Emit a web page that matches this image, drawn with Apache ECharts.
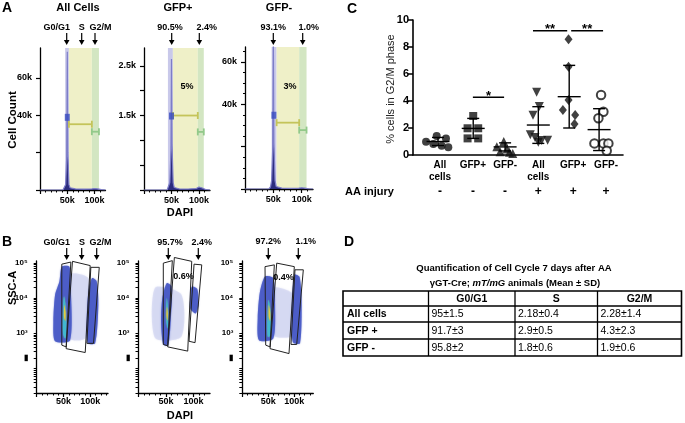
<!DOCTYPE html>
<html><head><meta charset="utf-8">
<script src="https://cdn.jsdelivr.net/npm/echarts@6/dist/echarts.min.js"></script>
<style>html,body{margin:0;padding:0;background:#fff}#c{width:685px;height:423px}</style>
</head><body><div id="c"></div><script>
// ===== Panel A: DAPI histograms (DAPI and counts in thousands) =====
const histX    = [0, 42, 45, 47, 49, 50, 51, 53, 55, 58, 65, 80, 95, 100, 106, 112, 120];
const histAllY = [0, 0, 0.8, 3, 18, 74, 20, 3, 1.2, 0.8, 0.6, 0.5, 0.6, 0.8, 0.6, 0.2, 0];
const histPosY = [0, 0, 0.03, 0.15, 0.8, 2.64, 0.9, 0.15, 0.05, 0.02, 0.02, 0.02, 0.03, 0.06, 0.04, 0.01, 0];
const histNegY = [0, 0, 1, 4, 20, 72, 22, 4, 1.2, 0.6, 0.4, 0.3, 0.4, 0.6, 0.4, 0.1, 0];
// gate edges: G0/G1 start, S start, G2/M start, G2/M end
const bandAll = [46, 53, 95, 108];
const bandPos = [43.5, 52.5, 97.8, 108.7];
const bandNeg = [47, 55.8, 95.6, 108.6];
// range markers: [from, to, level]
const sRangeAll = [53, 95, 35.2],  g2RangeAll = [95, 108, 31.2];
const sRangePos = [52.5, 97.8, 1.5], g2RangePos = [97.8, 108.7, 1.17];
const sRangeNeg = [55.8, 95.6, 31.3], g2RangeNeg = [95.6, 108.6, 27.8];
const g1MeanAll = [50, 38.9], g1MeanPos = [50, 1.49], g1MeanNeg = [51, 34.8];

// ===== Panel B: DAPI (k) vs log10(SSC-A) =====
const b1S    = [[62.4,4.66],[96.6,4.56],[99.8,3.6],[90.5,2.85],[62.4,2.85]];
const b1G1   = [[46.8,4.89],[61,4.89],[63.7,4.28],[62.4,2.8],[34.3,2.77],[31.1,3.32],[34.3,4.09],[42.3,4.47]];
const b1G2   = [[103,4.56],[112,4.47],[115,3.8],[109,2.71],[94.8,2.73],[93.6,3.51],[96.6,4.18]];
const b1Core = [[51,4.05],[54.5,3.7],[55,3.0],[53,2.85],[49,3.0],[49,3.7]];
const b1Hot  = [[51.5,3.8],[53.8,3.6],[53.5,3.35],[51,3.45]];
const b2S    = [[30,4.29],[78,4.1],[78,2.9],[30,2.86]];
const b2G1   = [[51.3,4.42],[60.4,4.32],[59.2,3.51],[54.2,2.66],[45.1,2.68],[41,3.32],[43.3,3.99]];
const b2G2   = [[97,4.32],[107,4.25],[109,3.8],[104,3.56],[94,3.7],[94.5,4.1]];
const b2Core = [[51.5,4.0],[54,3.6],[53.2,3.13],[50,3.4]];
const b2Hot  = [[51.8,3.75],[53.3,3.55],[52.5,3.35],[51,3.5]];
const b3S    = [[59.6,4.28],[98,4.1],[98,2.94],[59.6,2.94]];
const b3G1   = [[43.7,4.61],[59.6,4.56],[63,3.8],[59.6,2.85],[32.1,2.8],[29.6,3.42],[34,4.18]];
const b3G2   = [[100,4.66],[110,4.6],[114,3.9],[111,2.71],[97,2.75],[95,3.6]];
const b3Core = [[50.5,3.95],[54.5,3.6],[55,2.95],[49,2.9],[48.5,3.5]];
const b3Hot  = [[51,3.8],[53.5,3.6],[53.5,3.35],[51,3.45]];
const b1Gates = [[[46.8,4.96],[63.7,5.02],[54.9,2.61],[46.8,2.66]], [[66.7,5.04],[99.8,4.92],[90.5,2.45],[54.9,2.56]], [[101,4.87],[116.7,4.87],[106,2.71],[93.6,2.71]]];
const b2Gates = [[[45.1,4.99],[61.5,5.06],[53.1,2.64],[45.1,2.68]], [[65.2,5.15],[96.8,5.04],[89.5,2.49],[53.1,2.61]], [[101,4.96],[115,4.94],[102.8,2.73],[91.9,2.77]]];
const b3Gates = [[[43.7,4.89],[61.6,4.94],[53.3,2.61],[45,2.66]], [[66.2,4.99],[100,4.89],[89.8,2.42],[53.3,2.56]], [[101.3,4.8],[117.3,4.8],[104.6,2.68],[93.6,2.68]]];

// ===== Panel C: % cells in G2/M =====
const cLabels = ['All\ncells', 'GFP+', 'GFP-', 'All\ncells', 'GFP+', 'GFP-'];
const injury  = ['-', '-', '-', '+', '+', '+'];
const groupX  = [1.0, 2.06, 3.02, 4.02, 4.95, 5.85];
const ptsAll  = [[0.64,0.99],[0.96,1.41],[1.24,1.23],[0.86,0.81],[1.11,0.69],[1.31,0.57]];
const ptsPos  = [[2.06,2.89],[1.89,1.98],[2.21,1.98],[1.89,1.23],[2.21,1.23]];
const ptsNeg  = [[2.98,1.0],[2.77,0.62],[3.08,0.45],[2.87,0.25],[3.15,0.2],[3.25,0.12]];
const ptsAllAA = [[3.97,4.65],[4.05,3.6],[3.86,2.95],[3.78,1.5],[3.92,1.3],[4.12,1.08],[4.3,1.1],[4.02,0.95]];
const ptsPosAA = [[4.93,8.57],[4.93,6.54],[4.93,4.07],[4.76,3.33],[5.13,2.96],[5.11,2.3]];
const ptsNegAA = [[5.91,4.44],[5.98,3.21],[5.83,2.72],[5.71,0.86],[5.98,0.86],[6.13,0.86],[6.08,0.32]];
const means = [1.0, 1.97, 0.6, 2.22, 4.32, 1.88];
const sds   = [0.3, 0.74, 0.3, 1.36, 2.32, 1.55];
const sigFrom = [2.05, 3.86, 5.01], sigTo = [2.99, 4.89, 5.97], sigLevel = [4.27, 9.21, 9.21], sigMark = ['*', '**', '**'];

// ===== Panel D: table =====
const tableCols = ['G0/G1', 'S', 'G2/M'];
const tableRows = ['All cells', 'GFP +', 'GFP -'];
const g0g1Vals = ['95±1.5', '91.7±3', '95.8±2'];
const sVals    = ['2.18±0.4', '2.9±0.5', '1.8±0.6'];
const g2mVals  = ['2.28±1.4', '4.3±2.3', '1.9±0.6'];

// ---------------------------------------------------------------
const F = '"Liberation Sans", Arial, Helvetica, sans-serif';
const chart = echarts.init(document.getElementById('c'), null, {width: 685, height: 423});

function txt(x, y, text, size, o) {
  o = o || {};
  const al = o.align || 'center', va = o.va || 'middle';
  return {type: 'text', x, y, rotation: o.rot || 0, z: 100,
    style: {text, fill: o.color || '#000', font: (o.style || 'normal') + ' ' + (o.weight || 'bold') + ' ' + size + 'px ' + F,
      align: al, verticalAlign: va, textAlign: al, textVerticalAlign: va}};
}
function arrow(x, y1, y2) {
  return {type: 'group', z: 100, children: [
    {type: 'line', shape: {x1: x, y1: y1, x2: x, y2: y2 - 3}, style: {stroke: '#000', lineWidth: 1.2}},
    {type: 'polygon', shape: {points: [[x - 2.8, y2 - 5], [x + 2.8, y2 - 5], [x, y2]]}, style: {fill: '#000'}}
  ]};
}
const zip = (xs, ys) => xs.map((x, i) => [x, ys[i]]);
const axisLineStyle = {color: '#000', width: 1.3};

const grids = [
  {left: 40, top: 48, width: 65.5, height: 142},
  {left: 144, top: 48, width: 66, height: 142},
  {left: 245, top: 47, width: 68, height: 142},
  {left: 36.7, top: 261, width: 71.3, height: 132},
  {left: 138.5, top: 261, width: 71.5, height: 132},
  {left: 242.3, top: 261, width: 71, height: 132},
  {left: 413, top: 20, width: 210, height: 135}
].map(g => Object.assign({containLabel: false, outerBoundsMode: 'none'}, g));

function xAxisDapi(gi, max) {
  return {gridIndex: gi, type: 'value', min: 0, max: max, interval: 50,
    axisLine: {show: true, onZero: false, lineStyle: axisLineStyle},
    axisTick: {show: true, length: 4, customValues: [0, 50, 100], lineStyle: {color: '#000', width: 1.2}},
    minorTick: {show: true, splitNumber: 5, length: 2.5, lineStyle: {color: '#000', width: 1}},
    splitLine: {show: false}, minorSplitLine: {show: false},
    axisLabel: {customValues: [50, 100], formatter: v => v + 'k', fontFamily: F, fontWeight: 'bold', fontSize: 9, color: '#000', margin: gi < 3 ? 6 : 4}};
}
function yAxisCount(gi, max, interval, labels, ticks, minor) {
  return {gridIndex: gi, type: 'value', min: 0, max: max, interval: interval,
    axisLine: {show: true, onZero: false, lineStyle: axisLineStyle},
    axisTick: {show: true, length: 4, customValues: ticks, lineStyle: {color: '#000', width: 1.2}},
    minorTick: {show: !!minor, splitNumber: minor || 2, length: 2, lineStyle: {color: '#000', width: 1}},
    splitLine: {show: false}, minorSplitLine: {show: false},
    axisLabel: {customValues: labels, formatter: v => v + 'k', fontFamily: F, fontWeight: 'bold', fontSize: 9, color: '#000', margin: 8}};
}
function logTicks(min, max) {
  const out = [];
  for (let n = 1; n <= 5; n++) for (let k = 1; k <= 9; k++) {
    const v = Math.log10(k * Math.pow(10, n));
    if (v >= min - 1e-9 && v <= max + 1e-9) out.push(v);
  }
  return out;
}
const sup = {5: '10⁵', 4: '10⁴', 3: '10³'};
function yAxisSsc(gi) {
  return {gridIndex: gi, type: 'value', min: 1.3, max: 5.05,
    axisLine: {show: true, onZero: false, lineStyle: axisLineStyle},
    axisTick: {show: true, length: 3, customValues: logTicks(1.3, 5.05), lineStyle: {color: '#000', width: 1}},
    splitLine: {show: false},
    axisLabel: {customValues: [2.3, 3, 4, 5], formatter: v => (v > 2.9 ? sup[Math.round(v)] : '▮'),
      fontFamily: F, fontWeight: 'bold', fontSize: 8, color: '#000', margin: 9}};
}

const labelX = [1.06, 2.05, 3.02, 4.02, 5.07, 6.06];
const nearest = v => { let b = 0; labelX.forEach((p, i) => { if (Math.abs(p - v) < Math.abs(labelX[b] - v)) b = i; }); return b; };

const xAxes = [
  xAxisDapi(0, 120), xAxisDapi(1, 120), xAxisDapi(2, 120),
  xAxisDapi(3, 133), xAxisDapi(4, 130), xAxisDapi(5, 136.5),
  {gridIndex: 6, type: 'value', min: 0.247, max: 6.57,
    axisLine: {show: true, onZero: false, lineStyle: {color: '#000', width: 1.6}}, axisTick: {show: false}, splitLine: {show: false},
    axisLabel: {customValues: labelX, formatter: v => cLabels[nearest(v)], fontFamily: F, fontWeight: 'bold', fontSize: 10, lineHeight: 12, color: '#000', margin: 4, verticalAlign: 'top'}},
  {gridIndex: 6, type: 'value', min: 0.247, max: 6.57, position: 'bottom', offset: 31,
    axisLine: {show: false}, axisTick: {show: false}, splitLine: {show: false},
    axisLabel: {customValues: labelX, formatter: v => injury[nearest(v)], fontFamily: F, fontWeight: 'bold', fontSize: 12, color: '#000', margin: 0, verticalAlign: 'top'}}
];
const yAxes = [
  yAxisCount(0, 76, 20, [40, 60], [0, 20, 40, 60], 0),
  yAxisCount(1, 2.86, 0.5, [1.5, 2.5], [0, 0.5, 1, 1.5, 2, 2.5], 0),
  yAxisCount(2, 67, 20, [40, 60], [0, 20, 40, 60], 4),
  yAxisSsc(3), yAxisSsc(4), yAxisSsc(5),
  {gridIndex: 6, type: 'value', min: 0, max: 10, interval: 2,
    axisLine: {show: true, onZero: false, lineStyle: {color: '#000', width: 1.6}},
    axisTick: {show: true, length: 5, lineStyle: {color: '#000', width: 1.5}},
    splitLine: {show: false},
    axisLabel: {fontFamily: F, fontWeight: 'bold', fontSize: 11, color: '#000', margin: 4}}
];

// ---- series ----
const series = [];
const bandColors = ['#c9c9ea', '#eff0c8', '#d3e6c2'];
function histSeries(gi, ys, band, sR, gR, mean) {
  series.push({type: 'custom', xAxisIndex: gi, yAxisIndex: gi, z: 1, silent: true, clip: true,
    data: [[band[0], band[1], 0], [band[1], band[2], 1], [band[2], band[3], 2]], encode: {x: [0, 1]},
    renderItem: (params, api) => {
      const cs = params.coordSys;
      const a = api.coord([api.value(0), 0])[0], b = api.coord([api.value(1), 0])[0];
      return {type: 'rect', shape: {x: a, y: cs.y, width: b - a, height: cs.height}, style: {fill: bandColors[api.value(2)]}};
    }});
  series.push({type: 'line', xAxisIndex: gi, yAxisIndex: gi, z: 3, data: zip(histX, ys), symbol: 'none', silent: true,
    lineStyle: {color: '#7d7dc8', width: 1.2}, areaStyle: {color: '#2c2c7e', opacity: 1}});
  const rc = ['#c4c45a', '#92c98a'];
  series.push({type: 'custom', xAxisIndex: gi, yAxisIndex: gi, z: 4, silent: true, clip: false,
    data: [[sR[0], sR[1], sR[2], 0], [gR[0], gR[1], gR[2], 1]], encode: {x: [0, 1], y: 2},
    renderItem: (params, api) => {
      const p1 = api.coord([api.value(0), api.value(2)]), p2 = api.coord([api.value(1), api.value(2)]);
      const st = {stroke: rc[api.value(3)], lineWidth: 1.8};
      return {type: 'group', children: [
        {type: 'line', shape: {x1: p1[0], y1: p1[1], x2: p2[0], y2: p2[1]}, style: st},
        {type: 'line', shape: {x1: p1[0], y1: p1[1] - 3.5, x2: p1[0], y2: p1[1] + 3.5}, style: st},
        {type: 'line', shape: {x1: p2[0], y1: p2[1] - 3.5, x2: p2[0], y2: p2[1] + 3.5}, style: st}]};
    }});
  series.push({type: 'scatter', xAxisIndex: gi, yAxisIndex: gi, z: 5, silent: true, data: [mean], symbol: 'rect', symbolSize: [5, 7], itemStyle: {color: '#3a4cc0'}});
}
histSeries(0, histAllY, bandAll, sRangeAll, g2RangeAll, g1MeanAll);
histSeries(1, histPosY, bandPos, sRangePos, g2RangePos, g1MeanPos);
histSeries(2, histNegY, bandNeg, sRangeNeg, g2RangeNeg, g1MeanNeg);

const cloudStyle = {
  sparse: {fill: '#8e98dc', opacity: 0.2, shadowBlur: 2, shadowColor: '#8e98dc'},
  dense:  {fill: '#4456c4', opacity: 0.85, shadowBlur: 1.5, shadowColor: '#6070d0'},
  core:   {fill: '#3fb7d4', opacity: 0.95, shadowBlur: 1.5, shadowColor: '#6fd08a'},
  hot:    {fill: '#e2cf40', opacity: 1, shadowBlur: 1.5, shadowColor: '#e08a3a'}
};
function scatterPlot(gi, layers, gates) {
  series.push({type: 'custom', xAxisIndex: gi, yAxisIndex: gi, z: 2, silent: true, clip: false,
    data: layers.map((l, k) => [l[1][0][0], l[1][0][1], k]), encode: {x: 0, y: 1},
    renderItem: (params, api) => {
      const l = layers[api.value(2)];
      return {type: 'polygon', shape: {points: l[1].map(p => api.coord(p)), smooth: 0.25}, style: cloudStyle[l[0]]};
    }});
  series.push({type: 'custom', xAxisIndex: gi, yAxisIndex: gi, z: 6, silent: true, clip: false,
    data: gates.map((g, k) => [g[0][0], g[0][1], k]), encode: {x: 0, y: 1},
    renderItem: (params, api) => {
      const g = gates[api.value(2)];
      return {type: 'polygon', shape: {points: g.map(p => api.coord(p))}, style: {fill: 'none', stroke: '#222', lineWidth: 1}};
    }});
}
scatterPlot(3, [['sparse', b1S], ['dense', b1G1], ['dense', b1G2], ['core', b1Core], ['hot', b1Hot]], b1Gates);
scatterPlot(4, [['sparse', b2S], ['dense', b2G1], ['dense', b2G2], ['core', b2Core], ['hot', b2Hot]], b2Gates);
scatterPlot(5, [['sparse', b3S], ['dense', b3G1], ['dense', b3G2], ['core', b3Core], ['hot', b3Hot]], b3Gates);

// Panel C
const groups = [
  [ptsAll, 'circle', 8, 0], [ptsPos, 'rect', 8, 0], [ptsNeg, 'triangle', 9, 0],
  [ptsAllAA, 'triangle', 9, 180], [ptsPosAA, 'diamond', [8, 10], 0], [ptsNegAA, 'emptyCircle', 8.5, 0]
];
groups.forEach(g => series.push({type: 'scatter', xAxisIndex: 6, yAxisIndex: 6, z: 3, silent: true, clip: false,
  data: g[0], symbol: g[1], symbolSize: g[2], symbolRotate: g[3],
  itemStyle: {color: '#111', borderColor: '#111', borderWidth: g[1] === 'emptyCircle' ? 1.6 : 0}}));
series.push({type: 'custom', xAxisIndex: 6, yAxisIndex: 6, z: 4, silent: true, clip: false,
  data: groupX.map((x, i) => [x, means[i], sds[i]]), encode: {x: 0, y: 1},
  renderItem: (params, api) => {
    const x = api.value(0), m = api.value(1), s = api.value(2);
    const t = api.coord([x, m + s]), b = api.coord([x, m - s]), c = api.coord([x, m]);
    const st = {stroke: '#000', lineWidth: 1.4};
    return {type: 'group', children: [
      {type: 'line', shape: {x1: t[0], y1: t[1], x2: b[0], y2: b[1]}, style: st},
      {type: 'line', shape: {x1: t[0] - 6, y1: t[1], x2: t[0] + 6, y2: t[1]}, style: st},
      {type: 'line', shape: {x1: b[0] - 6, y1: b[1], x2: b[0] + 6, y2: b[1]}, style: st},
      {type: 'line', shape: {x1: c[0] - 11.5, y1: c[1], x2: c[0] + 11.5, y2: c[1]}, style: st}]};
  }});
series.push({type: 'custom', xAxisIndex: 6, yAxisIndex: 6, z: 4, silent: true, clip: false,
  data: sigFrom.map((f, i) => [f, sigLevel[i], sigTo[i], i]), encode: {x: 0, y: 1},
  renderItem: (params, api) => {
    const a = api.coord([api.value(0), api.value(1)]), b = api.coord([api.value(2), api.value(1)]);
    return {type: 'group', children: [
      {type: 'line', shape: {x1: a[0], y1: a[1], x2: b[0], y2: b[1]}, style: {stroke: '#000', lineWidth: 1.5}},
      {type: 'text', x: (a[0] + b[0]) / 2, y: a[1] - 1, style: {text: sigMark[api.value(3)], font: 'bold 13px ' + F, fill: '#000', align: 'center', verticalAlign: 'middle', textAlign: 'center', textVerticalAlign: 'middle'}}]};
  }});

// ---- graphics: labels, arrows, table ----
const G = [];
G.push(txt(7, 8, 'A', 14), txt(7, 242, 'B', 14), txt(352, 9, 'C', 14), txt(349, 242, 'D', 14));
G.push(txt(78, 7.5, 'All Cells', 11), txt(178, 7.5, 'GFP+', 11), txt(279, 7.5, 'GFP-', 11));
G.push(txt(56.7, 27.5, 'G0/G1', 9), txt(81.7, 27.5, 'S', 9), txt(100.5, 27.5, 'G2/M', 9));
G.push(txt(170, 27.5, '90.5%', 9), txt(206.7, 27.5, '2.4%', 9), txt(273.3, 27.5, '93.1%', 9), txt(308.7, 27.5, '1.0%', 9));
[66.7, 81.7, 95, 171.7, 199.3, 273.3, 302.7].forEach(x => G.push(arrow(x, 33, 45)));
G.push(txt(187, 87, '5%', 9), txt(290, 87, '3%', 9));
G.push(txt(13, 120, 'Cell Count', 11.5, {rot: Math.PI / 2}), txt(180, 213, 'DAPI', 11));
G.push(txt(56.7, 242.5, 'G0/G1', 9), txt(82, 242.5, 'S', 9), txt(100.5, 242.5, 'G2/M', 9));
G.push(txt(170, 242.5, '95.7%', 9), txt(201.7, 242.5, '2.4%', 9), txt(268.3, 242, '97.2%', 9), txt(305.8, 242, '1.1%', 9));
[66.7, 81.7, 96.7, 168.3, 198.3, 268.3, 298.3].forEach(x => G.push(arrow(x, 248, 260)));
G.push(txt(183.5, 277, '0.6%', 9), txt(283.5, 278, '0.4%', 9));
G.push(txt(12.5, 288, 'SSC-A', 11, {rot: Math.PI / 2}), txt(180, 416, 'DAPI', 11));
G.push(txt(391, 89, '% cells in G2/M phase', 11, {rot: Math.PI / 2, weight: 'normal', color: '#222'}));
G.push(txt(345, 192, 'AA injury', 11, {align: 'left'}));
// Panel D
G.push(txt(514, 268.5, 'Quantification of Cell Cycle 7 days after AA', 9.5));
G.push({type: 'text', x: 515, y: 283.5, z: 100, style: {text: '{n|γGT-Cre; }{i|mT/mG}{n| animals (Mean ± SD)}', align: 'center', verticalAlign: 'middle', textAlign: 'center', textVerticalAlign: 'middle',
  rich: {n: {fontFamily: F, fontWeight: 'bold', fontSize: 9.5, fill: '#000', color: '#000'}, i: {fontFamily: F, fontWeight: 'bold', fontStyle: 'italic', fontSize: 9.5, fill: '#000', color: '#000'}}}});
const colX = [343, 428.5, 515, 597.5, 681.5], rowY = [291, 306, 322, 339, 356];
G.push({type: 'rect', z: 100, shape: {x: colX[0], y: rowY[0], width: colX[4] - colX[0], height: rowY[4] - rowY[0]}, style: {fill: 'none', stroke: '#000', lineWidth: 1.6}});
for (let i = 1; i < 4; i++) G.push({type: 'line', z: 100, shape: {x1: colX[i], y1: rowY[0], x2: colX[i], y2: rowY[4]}, style: {stroke: '#000', lineWidth: 1.3}});
for (let j = 1; j < 4; j++) G.push({type: 'line', z: 100, shape: {x1: colX[0], y1: rowY[j], x2: colX[4], y2: rowY[j]}, style: {stroke: '#000', lineWidth: 1.3}});
tableCols.forEach((c, i) => G.push(txt((colX[i + 1] + colX[i + 2]) / 2, (rowY[0] + rowY[1]) / 2 + 0.5, c, 10.5)));
const cols = [g0g1Vals, sVals, g2mVals];
tableRows.forEach((r, j) => {
  const cy = (rowY[j + 1] + rowY[j + 2]) / 2 + 0.5;
  G.push(txt(colX[0] + 4, cy, r, 10.5, {align: 'left'}));
  cols.forEach((col, i) => G.push(txt(colX[i + 1] + 3, cy, col[j], 10.5, {align: 'left', weight: 'normal'})));
});

chart.setOption({
  backgroundColor: '#fff', animation: false,
  grid: grids, xAxis: xAxes, yAxis: yAxes, series: series, graphic: {elements: G}
});
</script></body></html>
